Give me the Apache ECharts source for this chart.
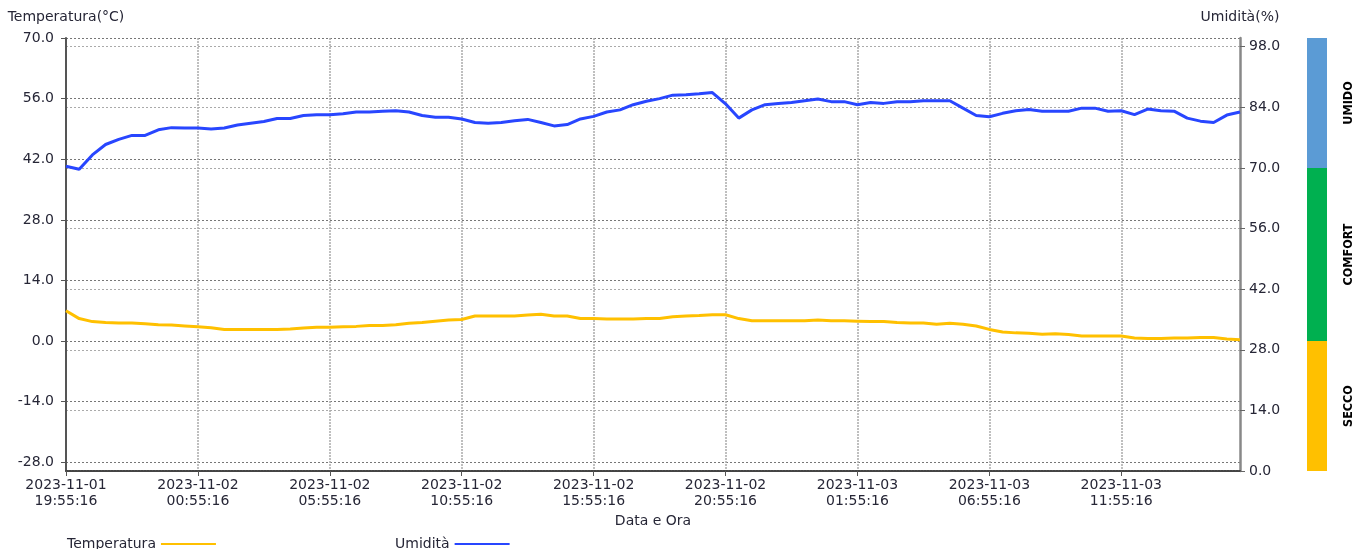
<!DOCTYPE html>
<html>
<head>
<meta charset="utf-8">
<script src="https://cdn.jsdelivr.net/npm/echarts@6/dist/echarts.min.js"></script>
<style>html,body{margin:0;padding:0;background:#fff}#c{width:1367px;height:549px}</style>
</head>
<body>
<div id="c"></div>
<script>
// ---- data ----
const startTime = '2023-11-01 19:55:16';
const stepMinutes = 30;
const humidity = [70.4,69.7,73.0,75.4,76.6,77.5,77.5,78.8,79.3,79.2,
  79.2,79.0,79.2,79.9,80.3,80.7,81.4,81.4,82.1,82.3,
  82.3,82.5,82.9,82.9,83.1,83.2,82.9,82.1,81.7,81.7,
  81.3,80.5,80.3,80.5,80.9,81.2,80.5,79.7,80.0,81.3,
  81.9,82.9,83.4,84.6,85.4,86.0,86.8,86.9,87.1,87.4,
  84.8,81.5,83.4,84.6,84.9,85.1,85.5,85.9,85.3,85.3,
  84.6,85.1,84.9,85.3,85.3,85.5,85.5,85.5,83.8,82.1,
  81.8,82.6,83.2,83.5,83.1,83.1,83.1,83.8,83.8,83.1,
  83.2,82.3,83.6,83.2,83.1,81.5,80.8,80.5,82.2,82.9];
const temperature = [7.0,5.2,4.5,4.3,4.2,4.2,4.0,3.8,3.7,3.5,
  3.3,3.1,2.7,2.7,2.7,2.7,2.7,2.8,3.0,3.2,
  3.2,3.3,3.4,3.6,3.6,3.8,4.1,4.3,4.6,4.9,
  5.0,5.8,5.8,5.8,5.8,6.0,6.2,5.8,5.8,5.2,
  5.2,5.1,5.1,5.1,5.2,5.2,5.6,5.8,5.9,6.1,
  6.1,5.2,4.7,4.7,4.7,4.7,4.7,4.9,4.7,4.7,
  4.6,4.5,4.5,4.3,4.2,4.2,3.9,4.1,3.9,3.5,
  2.7,2.1,1.9,1.8,1.6,1.7,1.5,1.2,1.2,1.2,
  1.2,0.7,0.6,0.6,0.7,0.7,0.85,0.85,0.5,0.3];
const tempTicks = [-28,-14,0,14,28,42,56,70];
const humTicks = [0,14,28,42,56,70,84,98];
const bandNames = ['SECCO','COMFORT','UMIDO'];
const bandSizes = [30,40,30];
const bandColors = ['#ffc000','#00b050','#5b9bd5'];

// build category labels from start time and sampling step
function pad(n){return (n<10?'0':'')+n;}
const categories = (function(){
  const p = startTime.split(/[- :]/).map(Number);
  const t0 = Date.UTC(p[0],p[1]-1,p[2],p[3],p[4],p[5]);
  return humidity.map((_,i)=>{
    const d = new Date(t0 + i*stepMinutes*60000);
    return d.getUTCFullYear()+'-'+pad(d.getUTCMonth()+1)+'-'+pad(d.getUTCDate())+' '+
      pad(d.getUTCHours())+':'+pad(d.getUTCMinutes())+':'+pad(d.getUTCSeconds());
  });
})();

const FONT = 'DejaVu Sans';
const FS = 14;
const TXT = '#262636';
const grid = {left:66, right:127, top:38, bottom:78};
const chart = echarts.init(document.getElementById('c'), null, {renderer:'canvas'});
chart.setOption({
  animation:false,
  textStyle:{fontFamily:FONT},
  grid:[grid, {left:1307, width:20, top:38, bottom:78}],
  legend:[
    {data:['Temperatura'], left:67, top:537, padding:0, align:'right', icon:'rect', itemWidth:55, itemHeight:2,
     textStyle:{fontFamily:FONT, fontSize:FS, color:TXT}},
    {data:['Umidità'], left:395, top:537, padding:0, align:'right', icon:'rect', itemWidth:55, itemHeight:2,
     textStyle:{fontFamily:FONT, fontSize:FS, color:TXT}}
  ],
  xAxis:[{
    type:'category', data:categories, boundaryGap:false, gridIndex:0,
    name:'Data e Ora', nameLocation:'middle', nameGap:40,
    nameTextStyle:{fontFamily:FONT, fontSize:FS, color:TXT},
    axisLine:{onZero:false, lineStyle:{color:'#444', width:2, type:[2,1]}},
    axisTick:{interval:9, length:5, lineStyle:{color:'#555'}},
    axisLabel:{interval:9, margin:6, fontFamily:FONT, fontSize:FS, color:TXT, lineHeight:16,
      formatter:v=>v.replace(' ','\n')},
    splitLine:{show:true, interval:9, lineStyle:{color:'#aaa', type:[2,1], width:1.5}}
  },{
    type:'category', data:['z'], gridIndex:1, show:false
  }],
  yAxis:[{
    type:'value', min:-30, max:70, gridIndex:0, position:'left',
    name:'Temperatura(°C)', nameLocation:'end', nameGap:14,
    nameTextStyle:{fontFamily:FONT, fontSize:FS, color:TXT, align:'center'},
    axisLine:{show:true, onZero:false, lineStyle:{color:'#555', width:2}},
    axisTick:{show:true, customValues:tempTicks, length:5, lineStyle:{color:'#555'}},
    axisLabel:{customValues:tempTicks, margin:12, fontFamily:FONT, fontSize:FS, color:TXT,
      formatter:v=>v.toFixed(1)},
    splitLine:{show:true, lineStyle:{color:'#777', type:[2,2], width:1}}
  },{
    type:'value', min:0, max:100, gridIndex:0, position:'right',
    name:'Umidità(%)', nameLocation:'end', nameGap:14,
    nameTextStyle:{fontFamily:FONT, fontSize:FS, color:TXT, align:'center'},
    axisLine:{show:true, onZero:false, lineStyle:{color:'#888', width:2.5}},
    axisTick:{show:true, customValues:humTicks, length:5, lineStyle:{color:'#666'}},
    axisLabel:{customValues:humTicks, margin:9, fontFamily:FONT, fontSize:FS, color:TXT,
      formatter:v=>v.toFixed(1)},
    splitLine:{show:true, lineStyle:{color:'#aaa', type:[2,2], width:1}}
  },{
    type:'value', min:0, max:100, gridIndex:1, show:false
  }],
  series:[
    {name:'Temperatura', type:'line', xAxisIndex:0, yAxisIndex:0, data:temperature,
     symbol:'none', lineStyle:{color:'#ffc000', width:3}, itemStyle:{color:'#ffc000'}},
    {name:'Umidità', type:'line', xAxisIndex:0, yAxisIndex:1, data:humidity,
     symbol:'none', lineStyle:{color:'#2846ff', width:3}, itemStyle:{color:'#2846ff'}}
  ].concat(bandNames.map((n,i)=>({
    name:n, type:'bar', xAxisIndex:1, yAxisIndex:2, stack:'band', barWidth:'100%',
    data:[bandSizes[i]], itemStyle:{color:bandColors[i]},
    label:{show:true, position:'right', distance:22, rotate:90, align:'center', verticalAlign:'middle',
      formatter:n, fontFamily:"'Liberation Sans Narrow', 'DejaVu Sans Condensed', sans-serif", fontWeight:'bold',
      fontSize:12.5, color:'#000'}
  })))
});
</script>
</body>
</html>
